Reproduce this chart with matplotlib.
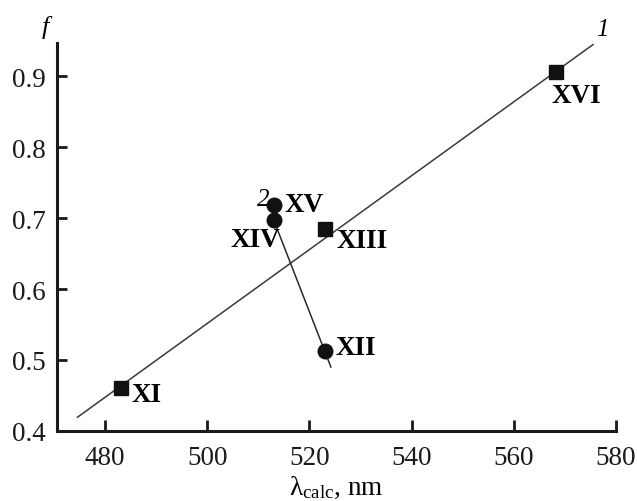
import numpy as np
import matplotlib
matplotlib.use("Agg")
import matplotlib.pyplot as plt

plt.rcParams['font.family'] = ['Liberation Serif', 'DejaVu Serif']
plt.rcParams['mathtext.fontset'] = 'custom'
plt.rcParams['mathtext.rm'] = 'Liberation Serif'

# compounds marked with squares (series 1)
sq_names = ['XI', 'XIII', 'XVI']
sq_x = [483.2, 523.0, 568.3]
sq_y = [0.460, 0.685, 0.906]

# compounds marked with circles (series 2)
ci_names = ['XV', 'XIV', 'XII']
ci_x = [513.0, 513.0, 523.0]
ci_y = [0.719, 0.698, 0.512]

# fitted lines, end points
line1_x = [474.6, 575.5]
line1_y = [0.419, 0.945]
line2_x = [513.3, 524.2]
line2_y = [0.692, 0.490]

# label offsets in points (ha, dx, dy)
sq_offsets = {'XI': ('left', 7, -4.5), 'XIII': ('left', 8.5, -8.5), 'XVI': ('left', -3.5, -16.5)}
ci_offsets = {'XV': ('left', 8, 0.5), 'XIV': ('right', 4.5, -14.5), 'XII': ('left', 8, 2.5)}

fig = plt.figure(figsize=(6.37, 5.02), dpi=100)
ax = fig.add_axes([0.0895, 0.140, 0.8775, 0.772])

ax.plot(line1_x, line1_y, color='#3a3a3a', lw=1.1, zorder=1)
ax.plot(line2_x, line2_y, color='#2a2a2a', lw=1.1, zorder=1)
ax.plot(sq_x, sq_y, 's', color='#111111', ms=10, ls='none', zorder=3)
ax.plot(ci_x, ci_y, 'o', color='#111111', ms=10.5, ls='none', zorder=3)

for name, x, y in zip(sq_names, sq_x, sq_y):
    ha, dx, dy = sq_offsets[name]
    ax.annotate(name, (x, y), xytext=(dx, dy), textcoords='offset points',
                ha=ha, va='center', fontsize=19.5, fontweight='bold')
for name, x, y in zip(ci_names, ci_x, ci_y):
    ha, dx, dy = ci_offsets[name]
    ax.annotate(name, (x, y), xytext=(dx, dy), textcoords='offset points',
                ha=ha, va='center', fontsize=19.5, fontweight='bold')

ax.text(577.3, 0.967, '1', style='italic', fontsize=18, ha='center', va='center', clip_on=False)
ax.text(510.9, 0.727, '2', style='italic', fontsize=18, ha='center', va='center')
ax.text(468.3, 0.971, 'f', style='italic', fontsize=19, ha='center', va='center', clip_on=False)

ax.set_xlim(470.6, 580)
ax.set_ylim(0.4, 0.947)
ax.set_xticks([480, 500, 520, 540, 560, 580])
ax.set_yticks([0.4, 0.5, 0.6, 0.7, 0.8, 0.9])
ax.set_yticklabels(['0.4', '0.5', '0.6', '0.7', '0.8', '0.9'])

for s in ['top', 'right']:
    ax.spines[s].set_visible(False)
for s in ['left', 'bottom']:
    ax.spines[s].set_linewidth(2.2)
    ax.spines[s].set_color('#1a1a1a')

ax.tick_params(axis='x', direction='in', length=8, width=2, labelsize=19.5, pad=10, colors='#1a1a1a')
ax.tick_params(axis='y', direction='in', length=7, width=2, labelsize=19.5, pad=8, colors='#1a1a1a')

ax.set_xlabel(r'$\mathregular{λ_{calc}}$, nm', fontsize=19.5, labelpad=3)

fig.savefig('out.png', dpi=100)
